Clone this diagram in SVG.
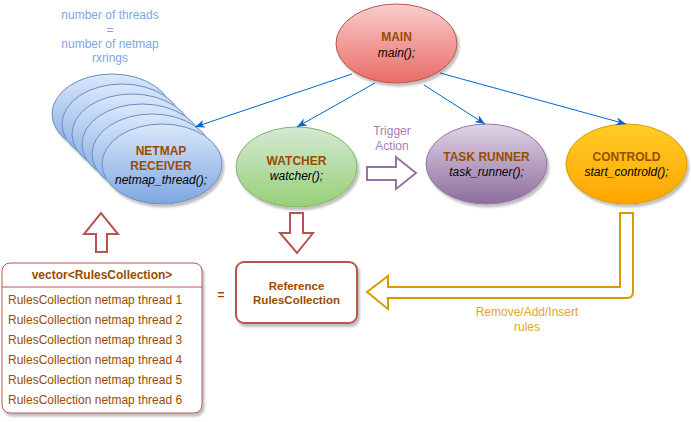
<svg xmlns="http://www.w3.org/2000/svg" width="691" height="422" viewBox="0 0 691 422">
<defs>
<linearGradient id="gRed" x1="0" y1="0" x2="0" y2="1"><stop offset="0" stop-color="#f8cecc"/><stop offset="1" stop-color="#ea6b66"/></linearGradient>
<linearGradient id="gGreen" x1="0" y1="0" x2="0" y2="1"><stop offset="0" stop-color="#d5e8d4"/><stop offset="1" stop-color="#97d077"/></linearGradient>
<linearGradient id="gPurple" x1="0" y1="0" x2="0" y2="1"><stop offset="0" stop-color="#e1d5e7"/><stop offset="1" stop-color="#8c6c9c"/></linearGradient>
<linearGradient id="gOrange" x1="0" y1="0" x2="0" y2="1"><stop offset="0" stop-color="#ffcd28"/><stop offset="1" stop-color="#ffa500"/></linearGradient>
<linearGradient id="gBlue" x1="0" y1="0" x2="0" y2="1"><stop offset="0" stop-color="#dae8fc"/><stop offset="1" stop-color="#7ea6e0"/></linearGradient>
<filter id="sh" x="-20%" y="-20%" width="140%" height="150%"><feDropShadow dx="2" dy="3" stdDeviation="1" flood-color="#000" flood-opacity="0.25"/></filter>
<marker id="arr" viewBox="0 0 10 10" refX="10" refY="5" markerWidth="10" markerHeight="10" markerUnits="userSpaceOnUse" orient="auto"><path d="M0,1 L10,5 L0,9 L3,5 Z" fill="#0066cc"/></marker>
<style>
text{font-family:"Liberation Sans",Arial,sans-serif;font-size:12px;text-anchor:middle}
.b{font-weight:bold;fill:#994c00}
.i{font-style:italic;fill:#000}
.lbl{fill:#7ea6e0}
.row{text-anchor:start;fill:#994c00}
.conn{stroke:#0066cc;stroke-width:1;fill:none;marker-end:url(#arr)}
</style>
</defs>

<g id="note">
<text class="lbl" x="110" y="19">number of threads</text>
<text class="lbl" x="110" y="34">=</text>
<text class="lbl" x="110" y="48">number of netmap</text>
<text class="lbl" x="110" y="62">rxrings</text>
</g>

<g id="netmap" filter="url(#sh)" fill="url(#gBlue)" stroke="#6c8ebf">
<ellipse cx="112" cy="114" rx="60" ry="40"/>
<ellipse cx="122" cy="124" rx="60" ry="40"/>
<ellipse cx="132" cy="134" rx="60" ry="40"/>
<ellipse cx="142" cy="144" rx="60" ry="40"/>
<ellipse cx="152" cy="154" rx="60" ry="40"/>
<ellipse cx="162" cy="164" rx="60" ry="40"/>
</g>
<g id="netmap-text">
<text class="b" x="161" y="155">NETMAP</text>
<text class="b" x="161" y="170">RECEIVER</text>
<text class="i" x="161" y="184">netmap_thread();</text>
</g>

<g id="main">
<ellipse cx="396.5" cy="43.5" rx="60.5" ry="39.5" fill="url(#gRed)" stroke="#b85450" filter="url(#sh)"/>
<text class="b" x="396.5" y="41">MAIN</text>
<text class="i" x="396.5" y="57">main();</text>
</g>

<g id="watcher">
<ellipse cx="296.5" cy="167" rx="60.5" ry="40" fill="url(#gGreen)" stroke="#82b366" filter="url(#sh)"/>
<text class="b" x="296.5" y="165">WATCHER</text>
<text class="i" x="296.5" y="180">watcher();</text>
</g>

<g id="taskrunner">
<ellipse cx="486.5" cy="164" rx="60.5" ry="40" fill="url(#gPurple)" stroke="#9673a6" filter="url(#sh)"/>
<text class="b" x="486.5" y="161">TASK RUNNER</text>
<text class="i" x="486.5" y="176">task_runner();</text>
</g>

<g id="controld">
<ellipse cx="626.5" cy="164" rx="60.5" ry="40" fill="url(#gOrange)" stroke="#d79b00" filter="url(#sh)"/>
<text class="b" x="626.5" y="161">CONTROLD</text>
<text class="i" x="626.5" y="176">start_controld();</text>
</g>

<g id="reference">
<rect x="236" y="262" width="121" height="61" rx="8" fill="#fff" stroke="#b85450" stroke-width="2" filter="url(#sh)"/>
<text class="b" x="296.5" y="290" style="font-size:11.5px">Reference</text>
<text class="b" x="296.5" y="304" style="font-size:11.5px">RulesCollection</text>
</g>

<g id="vector">
<rect x="2" y="263" width="200" height="150" rx="8" fill="#fff" stroke="#b85450" filter="url(#sh)"/>
<line x1="2" y1="287" x2="202" y2="287" stroke="#b85450"/>
<text class="b" x="102" y="279">vector&lt;RulesCollection&gt;</text>
<text class="row" x="8" y="304">RulesCollection netmap thread 1</text>
<text class="row" x="8" y="324">RulesCollection netmap thread 2</text>
<text class="row" x="8" y="344">RulesCollection netmap thread 3</text>
<text class="row" x="8" y="364">RulesCollection netmap thread 4</text>
<text class="row" x="8" y="384">RulesCollection netmap thread 5</text>
<text class="row" x="8" y="404">RulesCollection netmap thread 6</text>
</g>

<g id="equals">
<text class="b" x="221" y="299">=</text>
</g>

<g id="connectors">
<line class="conn" x1="352" y1="74" x2="195" y2="127"/>
<line class="conn" x1="375" y1="83" x2="297" y2="127"/>
<line class="conn" x1="424" y1="85" x2="485" y2="124"/>
<line class="conn" x1="440" y1="73" x2="626" y2="124"/>
<path d="M367,167 L396,167 L396,157 L416,173 L396,189 L396,180 L367,180 Z" fill="#fff" stroke="#9673a6" stroke-width="2"/>
<path d="M96,252 L96,234 L84,234 L101,213 L118,234 L107,234 L107,252 Z" fill="#fff" stroke="#b85450" stroke-width="2"/>
<path d="M290,213 L303,213 L303,233 L313,233 L297,253 L280,233 L290,233 Z" fill="#fff" stroke="#b85450" stroke-width="2"/>
<path d="M620,213 L633,213 L633,292 Q633,298 627,298 L388,298 L388,309 L367,292 L388,276 L388,287 L620,287 Z" fill="#fff" stroke="#d79b00" stroke-width="2"/>
<text x="392" y="135" fill="#a680b8">Trigger</text>
<text x="392" y="150" fill="#a680b8">Action</text>
<text x="527" y="316" fill="#e3a52e">Remove/Add/Insert</text>
<text x="527" y="331" fill="#e3a52e">rules</text>
</g>
</svg>
